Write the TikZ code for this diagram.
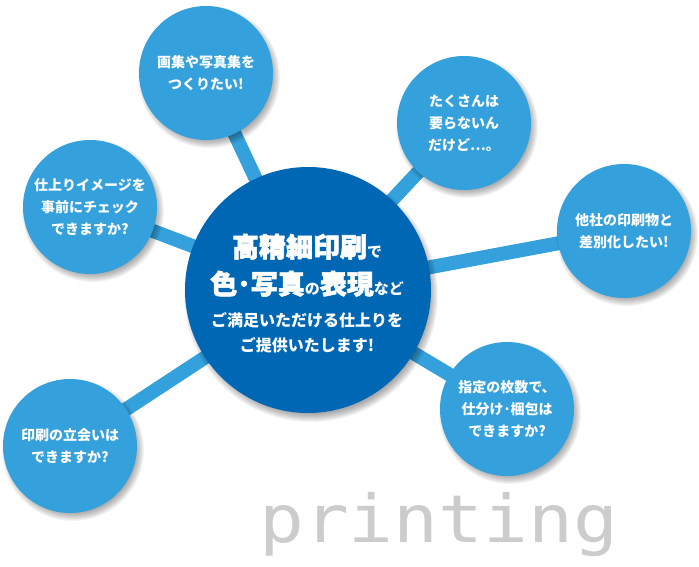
\documentclass[tikz,border=0pt]{standalone}
\usepackage{fontspec}
\setmainfont{Noto Sans CJK JP}
\newfontfamily\jpheavy{Noto Sans CJK JP}[BoldFeatures={FakeBold=2}]
\newfontfamily\monofont{DejaVu Sans Mono}[FakeStretch=1.13]
\definecolor{satblue}{RGB}{52,161,220}
\definecolor{hubblue}{RGB}{0,103,181}
\definecolor{txtgray}{RGB}{204,204,204}
\pgfdeclarelayer{conn}
\pgfdeclarelayer{shad}
\pgfsetlayers{conn,shad,main}
\newcommand\softshadow[4]{%
  \foreach \k in {0,...,8}{%
    \fill[black,opacity=0.045] ({#1+3},{#2+#4}) circle[radius={#3pt+4pt-\k*1pt}];}}
\begin{document}
\begin{tikzpicture}[x=1pt,y=-1pt,
  sat/.style={circle, fill=satblue, minimum size=134pt, inner sep=0pt, text=white,
    align=center, font=\bfseries\fontsize{14}{22}\selectfont},
  hub/.style={circle, fill=hubblue, minimum size=246pt, inner sep=0pt},
  link/.style={draw=satblue, line width=14pt},
  hubtext/.style={text=white, inner sep=0pt, anchor=base},
  ]
\useasboundingbox (0,0) rectangle (699,567);

% hub and text
\node[hub] (hub) at (308,290) {};
\node[hubtext] (t1) at (307,257) {{\jpheavy\bfseries\fontsize{27}{27}\selectfont 高精細印刷}{\bfseries\fontsize{15}{15}\selectfont で}};
\node[hubtext] (t2) at (307,294) {{\jpheavy\bfseries\fontsize{27}{27}\selectfont 色･写真}{\bfseries\fontsize{15}{15}\selectfont の}{\jpheavy\bfseries\fontsize{27}{27}\selectfont 表現}{\bfseries\fontsize{15}{15}\selectfont など}};
\node[hubtext, font=\bfseries\fontsize{16}{16}\selectfont] (t3) at (307,326) {ご満足いただける仕上りを};
\node[hubtext, font=\bfseries\fontsize{16}{16}\selectfont] (t4) at (307,351) {ご提供いたします!};

% satellites
\node[sat] (s1) at (206,73) {画集や写真集を\\つくりたい!};
\node[sat] (s2) at (464,123) {たくさんは\\要らないん\\だけど…。};
\node[sat] (s3) at (90,207) {仕上りイメージを\\事前にチェック\\できますか?};
\node[sat] (s4) at (624,231) {他社の印刷物と\\差別化したい!};
\node[sat] (s5) at (507,409) {指定の枚数で、\\仕分け･梱包は\\できますか?};
\node[sat] (s6) at (70,446) {印刷の立会いは\\できますか?};

% shadows
\begin{pgfonlayer}{shad}
  \softshadow{308}{290}{123}{5}
  \softshadow{206}{73}{67}{4}
  \softshadow{464}{123}{67}{4}
  \softshadow{90}{207}{67}{4}
  \softshadow{624}{231}{67}{4}
  \softshadow{507}{409}{67}{4}
  \softshadow{70}{446}{67}{4}
\end{pgfonlayer}

% connectors
\begin{pgfonlayer}{conn}
  \foreach \s in {s1,s2,s3,s4,s5,s6}{\draw[link] (hub.center) -- (\s.center);}
\end{pgfonlayer}

% printing
\node[font=\monofont\fontsize{66}{66}\selectfont, text=txtgray, anchor=base west, inner sep=0pt] (pr) at (259,542) {printing};
\end{tikzpicture}
\end{document}
